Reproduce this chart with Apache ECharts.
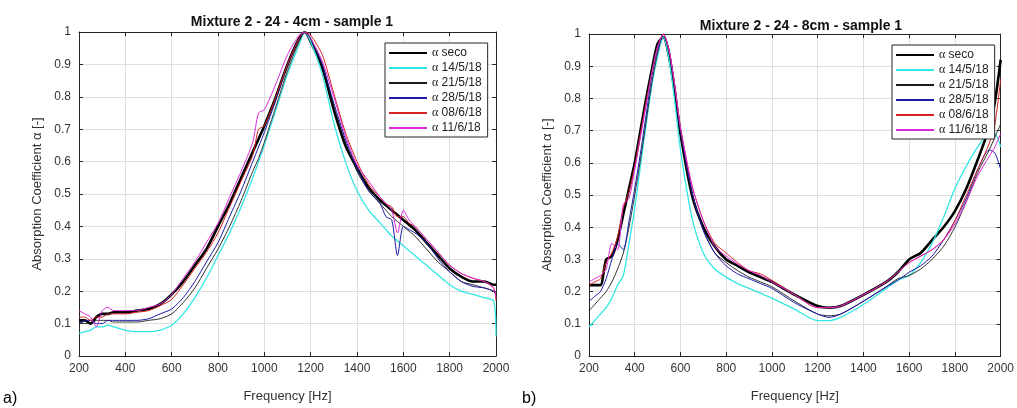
<!DOCTYPE html>
<html>
<head>
<meta charset="utf-8">
<script src="https://cdn.jsdelivr.net/npm/echarts@6/dist/echarts.min.js"></script>
<style>html,body{margin:0;padding:0;background:#fff}#c{width:1017px;height:408px}</style>
</head>
<body>
<div id="c"></div>
<script>
// ---------- data ----------
const seriesNames = ['α seco', 'α 14/5/18', 'α 21/5/18', 'α 28/5/18', 'α 08/6/18', 'α 11/6/18'];
const titleA = 'Mixture 2 - 24 - 4cm - sample 1';
const titleB = 'Mixture 2 - 24 - 8cm - sample 1';
const xTicks = [200, 400, 600, 800, 1000, 1200, 1400, 1600, 1800, 2000];
const yTicks = [0, 0.1, 0.2, 0.3, 0.4, 0.5, 0.6, 0.7, 0.8, 0.9, 1];

// chart a) 4cm
const freqA = [200,225,250,275,300,325,350,400,450,500,550,600,650,700,750,800,850,900,950,975,1000,1050,1100,1150,1175,1200,1250,1300,1350,1400,1450,1500,1525,1550,1575,1600,1625,1650,1700,1750,1800,1850,1900,1950,1990,2000];
const secoA = [0.11,0.11,0.10,0.12,0.13,0.13,0.135,0.135,0.14,0.145,0.16,0.19,0.23,0.28,0.33,0.40,0.47,0.55,0.63,0.67,0.71,0.80,0.90,0.98,1.0,0.97,0.89,0.76,0.65,0.58,0.52,0.48,0.465,0.45,0.435,0.42,0.405,0.39,0.35,0.31,0.27,0.245,0.23,0.23,0.22,0.22];
const may14A = [0.07,0.075,0.08,0.09,0.09,0.095,0.09,0.08,0.075,0.075,0.08,0.095,0.13,0.18,0.24,0.31,0.38,0.46,0.55,0.60,0.65,0.76,0.87,0.96,1.0,0.97,0.87,0.72,0.60,0.51,0.45,0.41,0.39,0.37,0.355,0.34,0.325,0.31,0.28,0.25,0.22,0.20,0.19,0.18,0.17,0.06];
const may21A = [0.11,0.10,0.10,0.11,0.11,0.11,0.105,0.105,0.105,0.11,0.115,0.13,0.165,0.21,0.27,0.33,0.40,0.48,0.57,0.61,0.66,0.77,0.88,0.97,1.0,0.98,0.90,0.77,0.66,0.57,0.51,0.47,0.45,0.43,0.415,0.40,0.385,0.37,0.33,0.29,0.26,0.23,0.22,0.21,0.20,0.19];
const may28A = [0.10,0.11,0.11,0.10,0.10,0.11,0.11,0.11,0.11,0.115,0.13,0.145,0.18,0.23,0.29,0.35,0.43,0.51,0.60,0.645,0.69,0.79,0.90,0.98,1.0,0.98,0.90,0.78,0.67,0.58,0.51,0.47,0.43,0.42,0.31,0.40,0.39,0.38,0.35,0.30,0.26,0.23,0.215,0.21,0.20,0.19];
const jun08A = [0.12,0.12,0.11,0.12,0.12,0.13,0.13,0.13,0.135,0.14,0.155,0.175,0.22,0.27,0.32,0.38,0.46,0.54,0.62,0.70,0.71,0.80,0.90,0.98,1.0,0.99,0.93,0.81,0.69,0.60,0.53,0.49,0.47,0.46,0.43,0.43,0.41,0.40,0.36,0.32,0.28,0.255,0.24,0.23,0.21,0.17];
const jun11A = [0.14,0.13,0.12,0.09,0.14,0.15,0.14,0.14,0.14,0.15,0.16,0.19,0.24,0.29,0.35,0.41,0.49,0.57,0.66,0.75,0.76,0.84,0.93,0.99,1.0,0.98,0.91,0.80,0.68,0.59,0.54,0.49,0.47,0.45,0.38,0.45,0.42,0.40,0.36,0.32,0.28,0.255,0.24,0.23,0.21,0.18];

// chart b) 8cm
const freqB = [200,225,250,275,300,325,350,375,400,425,450,475,500,525,550,575,600,650,700,750,800,850,900,950,1000,1100,1200,1250,1300,1400,1500,1550,1600,1650,1700,1750,1800,1850,1900,1950,1975,2000];
const secoB = [0.22,0.22,0.22,0.30,0.31,0.36,0.44,0.52,0.60,0.70,0.80,0.89,0.97,0.99,0.93,0.82,0.69,0.50,0.40,0.34,0.30,0.28,0.26,0.245,0.23,0.19,0.155,0.15,0.155,0.19,0.23,0.26,0.30,0.32,0.36,0.40,0.45,0.52,0.61,0.71,0.79,0.92];
const may14B = [0.09,0.11,0.13,0.15,0.18,0.22,0.25,0.35,0.46,0.59,0.72,0.84,0.93,0.99,0.92,0.79,0.64,0.43,0.32,0.27,0.245,0.225,0.21,0.195,0.18,0.145,0.11,0.11,0.12,0.16,0.21,0.235,0.25,0.29,0.35,0.43,0.52,0.59,0.65,0.69,0.69,0.65];
const may21B = [0.14,0.16,0.18,0.20,0.23,0.27,0.32,0.40,0.50,0.61,0.73,0.85,0.94,1.0,0.95,0.84,0.70,0.51,0.39,0.32,0.29,0.265,0.245,0.23,0.215,0.17,0.13,0.125,0.13,0.17,0.215,0.24,0.25,0.27,0.30,0.34,0.40,0.48,0.57,0.64,0.68,0.72];
const may28B = [0.17,0.185,0.20,0.24,0.30,0.35,0.33,0.42,0.52,0.63,0.75,0.87,0.95,1.0,0.95,0.84,0.70,0.51,0.39,0.32,0.28,0.255,0.24,0.225,0.21,0.165,0.13,0.12,0.13,0.17,0.215,0.235,0.26,0.28,0.31,0.36,0.42,0.49,0.58,0.64,0.63,0.58];
const jun08B = [0.22,0.23,0.24,0.29,0.32,0.37,0.46,0.51,0.59,0.69,0.79,0.88,0.96,1.0,0.95,0.84,0.71,0.53,0.42,0.35,0.32,0.29,0.265,0.255,0.235,0.19,0.15,0.15,0.155,0.19,0.23,0.26,0.29,0.31,0.33,0.36,0.42,0.50,0.58,0.66,0.72,0.86];
const jun11B = [0.23,0.24,0.25,0.27,0.35,0.33,0.47,0.49,0.58,0.68,0.78,0.88,0.96,1.0,0.95,0.84,0.71,0.53,0.42,0.34,0.31,0.285,0.265,0.25,0.23,0.19,0.15,0.15,0.155,0.19,0.23,0.26,0.29,0.31,0.33,0.36,0.41,0.48,0.56,0.62,0.65,0.69];

const seriesA = [secoA, may14A, may21A, may28A, jun08A, jun11A];
const seriesB = [secoB, may14B, may21B, may28B, jun08B, jun11B];

// ---------- styles ----------
const colors = ['#000000', '#33e6e6', '#1a1a1a', '#1a1aa8', '#d62222', '#d92ad9'];
const widths = [2.6, 1.3, 0.9, 1, 1, 1];
const FONT = 'Liberation Sans, Arial, sans-serif';
const axisColor = '#262626';
const gridColor = '#dedede';

function pairs(f, v) { return f.map((x, i) => [x, v[i]]); }

function axesFor(gi, isBottom) {
  return {
    x: {
      type: 'value', gridIndex: gi, min: xTicks[0], max: xTicks[xTicks.length - 1], interval: 200,
      position: isBottom ? 'bottom' : 'top',
      name: isBottom ? 'Frequency [Hz]' : '', nameLocation: 'middle', nameGap: 34,
      nameTextStyle: { fontFamily: FONT, fontSize: 13, color: '#333' },
      axisLine: { show: true, onZero: false, lineStyle: { color: axisColor, width: 1 } },
      axisTick: { show: true, inside: true, length: 4, lineStyle: { color: axisColor } },
      axisLabel: { show: isBottom, fontFamily: FONT, fontSize: 12, color: '#333', margin: 7,
        formatter: v => String(v) },
      splitLine: { show: isBottom, lineStyle: { color: gridColor, width: 1 } }
    },
    y: {
      type: 'value', gridIndex: gi, min: yTicks[0], max: yTicks[yTicks.length - 1], interval: 0.1,
      position: isBottom ? 'left' : 'right',
      name: isBottom ? 'Absorption Coefficient α [-]' : '', nameLocation: 'middle', nameGap: 35,
      nameTextStyle: { fontFamily: FONT, fontSize: 13, color: '#333' },
      axisLine: { show: true, onZero: false, lineStyle: { color: axisColor, width: 1 } },
      axisTick: { show: true, inside: true, length: 4, lineStyle: { color: axisColor } },
      axisLabel: { show: isBottom, fontFamily: FONT, fontSize: 12, color: '#333', margin: 8,
        formatter: v => String(Math.round(v * 10) / 10) },
      splitLine: { show: isBottom, lineStyle: { color: gridColor, width: 1 } }
    }
  };
}

const a0 = axesFor(0, true), a1 = axesFor(0, false), b0 = axesFor(1, true), b1 = axesFor(1, false);

const series = [];
[[freqA, seriesA, 0], [freqB, seriesB, 2]].forEach(([f, arr, ax]) => {
  arr.forEach((vals, i) => {
    series.push({
      type: 'line', name: seriesNames[i], xAxisIndex: ax, yAxisIndex: ax,
      data: pairs(f, vals), showSymbol: false, symbol: 'none', smooth: 0.25,
      lineStyle: { color: colors[i], width: widths[i] }, itemStyle: { color: colors[i] },
      silent: true, animation: false, z: 2
    });
  });
});

function legendAt(left, top, gap) {
  return {
    orient: 'vertical', left: left, top: top, data: seriesNames,
    itemWidth: 38, itemHeight: 13, itemGap: gap, padding: [4, 6, 3, 3],
    borderColor: '#262626', borderWidth: 1, backgroundColor: '#fff',
    selectedMode: false,
    itemStyle: { opacity: 0, borderWidth: 0 },
    formatter: n => '{a|α}' + n.slice(1),
    textStyle: { fontFamily: FONT, fontSize: 12, color: '#222',
      rich: { a: { fontFamily: 'Liberation Serif, Times New Roman, serif', fontSize: 12, color: '#222' } } }
  };
}

const option = {
  backgroundColor: '#fff',
  animation: false,
  title: [
    { text: titleA, left: 287, top: 10, textAlign: 'center',
      textStyle: { fontFamily: FONT, fontSize: 14, fontWeight: 'bold', color: '#111' } },
    { text: titleB, left: 796, top: 14, textAlign: 'center',
      textStyle: { fontFamily: FONT, fontSize: 14, fontWeight: 'bold', color: '#111' } }
  ],
  grid: [
    { left: 79, right: 521, top: 32, bottom: 48 },
    { left: 589, right: 14, top: 34, bottom: 46 }
  ],
  xAxis: [a0.x, a1.x, b0.x, b1.x],
  yAxis: [a0.y, a1.y, b0.y, b1.y],
  legend: [legendAt(385, 43, 3), legendAt(892, 45, 3)],
  graphic: [
    { type: 'text', left: 3, top: 391, style: { text: 'a)', fontFamily: FONT, fontSize: 16, fill: '#000' } },
    { type: 'text', left: 522, top: 391, style: { text: 'b)', fontFamily: FONT, fontSize: 16, fill: '#000' } }
  ],
  series: series
};

const chart = echarts.init(document.getElementById('c'), null, { renderer: 'canvas' });
chart.setOption(option);
</script>
</body>
</html>
